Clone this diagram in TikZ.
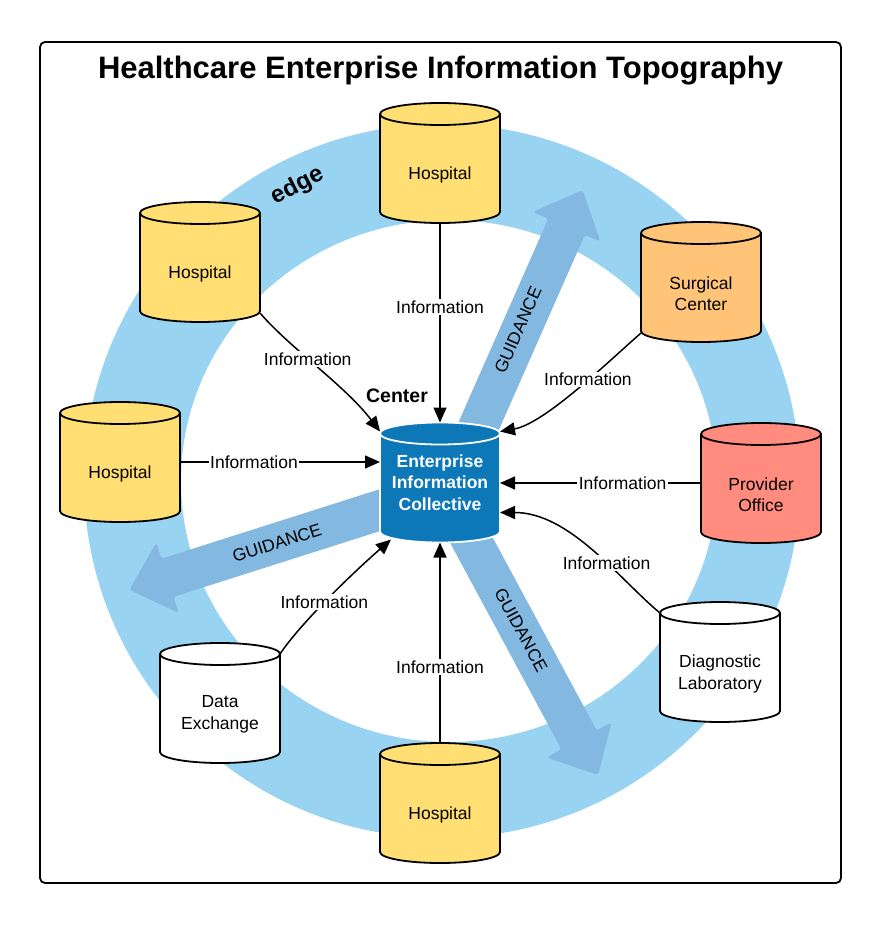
\documentclass[tikz,border=0pt]{standalone}
\usepackage{fontspec}
\setmainfont{Liberation Sans}
\usetikzlibrary{arrows.meta,calc}
\definecolor{ringblue}{HTML}{99D3F2}
\definecolor{guideblue}{HTML}{83B9E1}
\definecolor{hospyellow}{HTML}{FFDF73}
\definecolor{surgorange}{HTML}{FFC477}
\definecolor{provsalmon}{HTML}{FF8C7F}
\definecolor{eicblue}{HTML}{0C78B8}

% cylinder outline: cx, cy, fill, stroke
\newcommand\cylshape[4]{%
  \filldraw[fill=#3, draw=#4, line width=1.8pt, line join=round]
    (#1-60,#2-49) -- (#1-60,#2+49) arc[start angle=180, end angle=0, x radius=60, y radius=11]
    -- (#1+60,#2-49) arc[start angle=0, end angle=-180, x radius=60, y radius=11] -- cycle;
  \draw[draw=#4, line width=1.8pt] (#1-60,#2-49) arc[start angle=180, end angle=0, x radius=60, y radius=11];
}
% guidance arrow: x, y, angle, length
\newcommand\guidearrow[4]{%
  \begin{scope}[shift={(#1,#2)}, rotate=#3]
    \fill[guideblue, rounded corners=3pt] (0,-20) -- (#4-40,-20) -- (#4-40,-37) -- (#4,0)
      -- (#4-40,37) -- (#4-40,20) -- (0,20) -- cycle;
  \end{scope}}

\tikzset{
  cylbox/.style={minimum width=120pt, minimum height=120pt, inner sep=0pt, outer sep=0pt},
  cyltext/.style={font=\fontsize{17.5}{21.5}\selectfont, align=center, inner sep=0pt},
  lbl/.style={font=\fontsize{17.5}{21}\selectfont, fill=white, inner sep=1.5pt},
  guidetext/.style={font=\fontsize{17.5}{21}\selectfont, inner sep=0pt},
  infoline/.style={line width=1.5pt, -{Triangle[length=15pt,width=13pt]}},
}

\begin{document}
\begin{tikzpicture}[x=1pt,y=-1pt]
\useasboundingbox (0,0) rectangle (881,925);
\fill[white] (0,0) rectangle (881,925);
\draw[line width=1.8pt, rounded corners=5pt, fill=white] (40,42) rectangle (841,883);

\node[font=\bfseries\fontsize{31}{34}\selectfont, inner sep=0pt] (title) at (440.5,71) {Healthcare Enterprise Information Topography};

% ring
\fill[ringblue, even odd rule] (442,481) ellipse[x radius=358, y radius=357]
  (449,481) ellipse[x radius=268, y radius=261];

\node[font=\bfseries\fontsize{24}{28}\selectfont, rotate=27, inner sep=0pt] (edge) at (298,186) {edge};

% guidance arrows
\guidearrow{454}{482}{66.2}{319}
\guidearrow{440}{491}{197.66}{326}
\guidearrow{440}{482}{-61.66}{333}
\node[guidetext, rotate=66.2] (g1) at (518,330) {GUIDANCE};
\node[guidetext, rotate=17.66] (g2) at (277,543) {GUIDANCE};
\node[guidetext, rotate=-61.66] (g3) at (521,630) {GUIDANCE};

% cylinder shapes
\cylshape{440}{163}{hospyellow}{black}
\cylshape{200}{262}{hospyellow}{black}
\cylshape{120}{462}{hospyellow}{black}
\cylshape{701}{282}{surgorange}{black}
\cylshape{761}{483}{provsalmon}{black}
\cylshape{720}{662}{white}{black}
\cylshape{220}{703}{white}{black}
\cylshape{440}{803}{hospyellow}{black}
\cylshape{440}{482.5}{eicblue}{white}

% anchor boxes
\node[cylbox] (h1) at (440,163) {};
\node[cylbox] (h2) at (200,262) {};
\node[cylbox] (h3) at (120,462) {};
\node[cylbox] (sc) at (701,282) {};
\node[cylbox] (po) at (761,483) {};
\node[cylbox] (dl) at (720,662) {};
\node[cylbox] (dx) at (220,703) {};
\node[cylbox] (h4) at (440,803) {};
\node[cylbox] (eic) at (440,482.5) {};

% texts
\node[cyltext] (h1t) at ($(h1.center)+(0,12)$) {Hospital};
\node[cyltext] (h2t) at ($(h2.center)+(0,12)$) {Hospital};
\node[cyltext] (h3t) at ($(h3.center)+(0,12)$) {Hospital};
\node[cyltext] (sct) at ($(sc.center)+(0,11.5)$) {Surgical\\Center};
\node[cyltext] (pot) at ($(po.center)+(0,11.5)$) {Provider\\Office};
\node[cyltext] (dlt) at ($(dl.center)+(0,12)$) {Diagnostic\\Laboratory};
\node[cyltext] (dxt) at ($(dx.center)+(0,11.5)$) {Data\\Exchange};
\node[cyltext] (h4t) at ($(h4.center)+(0,12)$) {Hospital};
\node[cyltext, text=white, font=\bfseries\fontsize{17.5}{21.5}\selectfont] (eict) at (eic.center) {Enterprise\\Information\\Collective};

\node[font=\bfseries\fontsize{19.5}{23}\selectfont, inner sep=0pt] (center) at (397,396) {Center};

% information connectors
\draw[infoline] (h1.south) -- (eic.north) node[lbl, pos=0.42] (l1) {Information};
\draw[infoline] ($(h2.south east)+(0,-9)$) .. controls +(30,35) and +(-35,-46) .. ($(eic.north west)+(0,9)$) node[lbl, pos=0.42] (l2) {Information};
\draw[infoline] (h3.east) -- (h3.east -| eic.west) node[lbl, pos=0.37] (l3) {Information};
\draw[infoline] ($(sc.south west)+(0,-9)$) .. controls +(-31,27) and +(45,-8) .. ($(eic.north east)+(0,9)$) node[lbl, pos=0.42] (l4) {Information};
\draw[infoline] (po.west) -- (po.west -| eic.east) node[lbl, pos=0.39] (l5) {Information};
\draw[infoline] ($(dl.north west)+(0,11)$) .. controls +(-40,-33) and +(70,0) .. ($(eic.east)+(0,30)$) node[lbl, pos=0.4] (l6) {Information};
\draw[infoline] ($(dx.north east)+(0,11)$) .. controls +(20,-30) and +(-40,35) .. ($(eic.south west)+(11,-3)$) node[lbl, pos=0.47] (l7) {Information};
\draw[infoline] (h4.north) -- (eic.south) node[lbl, pos=0.38] (l8) {Information};
\end{tikzpicture}
\end{document}
